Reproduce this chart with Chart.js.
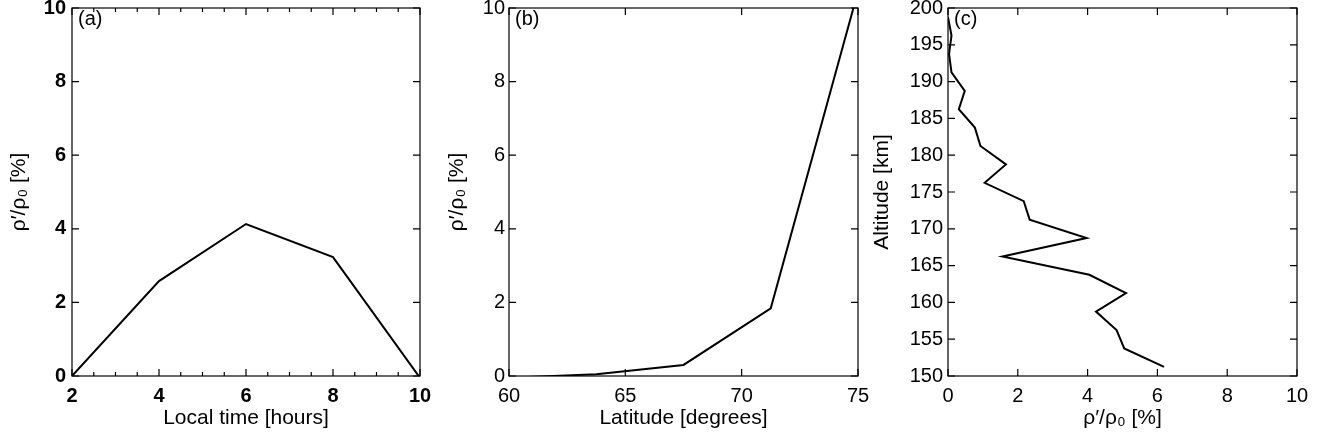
<!DOCTYPE html>
<html>
<head>
<meta charset="utf-8">
<script src="https://cdn.jsdelivr.net/npm/chart.js@4.4.1/dist/chart.umd.min.js"></script>
<style>
  html, body { margin: 0; padding: 0; background: #fff; }
  body { width: 1325px; height: 442px; position: relative; overflow: hidden; }
  .panel { position: absolute; top: 0; height: 442px; }
  #chartA { left: 0; width: 440px; }
  #chartB { left: 440px; width: 440px; }
  #chartC { left: 870px; width: 455px; }
</style>
</head>
<body>
<div class="panel" id="chartA"><canvas id="cA"></canvas></div>
<div class="panel" id="chartB"><canvas id="cB"></canvas></div>
<div class="panel" id="chartC"><canvas id="cC"></canvas></div>
<script>
// panel (a): perturbation vs local time
const localTime = [2, 4, 6, 8, 10];
const perturbA = [0, 2.58, 4.13, 3.23, -0.05];

// panel (b): perturbation vs latitude
const latitude = [60, 63.75, 67.5, 71.25, 75];
const perturbB = [-0.05, 0.05, 0.3, 1.84, 10.45];

// panel (c): altitude profile
const altitude = [198.75, 196.25, 193.75, 191.25, 188.75, 186.25, 183.75, 181.25, 178.75, 176.25,
                  173.75, 171.25, 168.75, 166.25, 163.75, 161.25, 158.75, 156.25, 153.75, 151.25];
const perturbC = [0.0, 0.1, 0.03, 0.1, 0.48, 0.31, 0.77, 0.93, 1.66, 1.05,
                  2.17, 2.34, 3.97, 1.56, 4.05, 5.1, 4.24, 4.83, 5.05, 6.19];

const FONT = '"Liberation Sans", Arial, Helvetica, sans-serif';
const RHO = 'ρ\u2032/ρ\u2080 [%]';

// frame with inward ticks on all four sides + panel letter
const frame = {
  id: 'frame',
  afterDraw(chart, args, opts) {
    const { ctx, chartArea: a, scales: { x, y } } = chart;
    ctx.save();
    ctx.strokeStyle = '#000';
    ctx.lineWidth = 1.2;
    ctx.strokeRect(a.left, a.top, a.right - a.left, a.bottom - a.top);
    ctx.beginPath();
    x.ticks.forEach(t => {
      const px = x.getPixelForValue(t.value);
      ctx.moveTo(px, a.bottom); ctx.lineTo(px, a.bottom - 7);
      ctx.moveTo(px, a.top); ctx.lineTo(px, a.top + 7);
    });
    y.ticks.forEach(t => {
      const py = y.getPixelForValue(t.value);
      ctx.moveTo(a.left, py); ctx.lineTo(a.left + 7, py);
      ctx.moveTo(a.right, py); ctx.lineTo(a.right - 7, py);
    });
    if (opts.minorX) {
      for (let v = x.min; v <= x.max + 1e-9; v += opts.minorX) {
        const px = x.getPixelForValue(v);
        ctx.moveTo(px, a.bottom); ctx.lineTo(px, a.bottom - 4);
        ctx.moveTo(px, a.top); ctx.lineTo(px, a.top + 4);
      }
    }
    ctx.stroke();
    ctx.fillStyle = '#000';
    ctx.font = '20px ' + FONT;
    ctx.textBaseline = 'top';
    ctx.fillText(opts.label, a.left + 6, a.top + 1);
    ctx.restore();
  }
};

function makeChart(id, xs, ys, o) {
  const pts = xs.map((v, i) => ({ x: v, y: ys[i] }));
  const tickFont = { family: FONT, size: 20, weight: o.bold ? 'bold' : 'normal' };
  const titleFont = { family: FONT, size: 21 };
  return new Chart(document.getElementById(id), {
    type: 'line',
    data: { datasets: [{ data: pts, borderColor: '#000', borderWidth: 2, pointRadius: 0, tension: 0, fill: false }] },
    options: {
      responsive: true,
      maintainAspectRatio: false,
      animation: false,
      layout: { padding: { top: 8, right: o.right, bottom: 0, left: 0 } },
      plugins: { legend: { display: false }, tooltip: { enabled: false }, frame: { label: o.label, minorX: o.minorX } },
      scales: {
        x: {
          type: 'linear', min: o.xMin, max: o.xMax,
          grid: { display: false, drawTicks: false },
          border: { display: false },
          ticks: { stepSize: o.xStep, padding: 8, color: '#000', font: tickFont, maxRotation: 0, autoSkip: false },
          title: { display: true, text: o.xTitle, color: '#000', font: titleFont, padding: { top: 0, bottom: 11 } },
          afterFit(s) { s.height = 66; s.paddingLeft = 0; s.paddingRight = 0; s.paddingTop = 0; s.paddingBottom = 0; }
        },
        y: {
          type: 'linear', min: o.yMin, max: o.yMax,
          grid: { display: false, drawTicks: false },
          border: { display: false },
          ticks: { stepSize: o.yStep, padding: o.yPad, color: '#000', font: tickFont, autoSkip: false },
          title: { display: true, text: o.yTitle, color: '#000', font: titleFont, padding: { top: o.yTitlePad, bottom: 0 } },
          afterFit(s) { s.width = o.yWidth; s.paddingLeft = 0; s.paddingRight = 0; s.paddingTop = 0; s.paddingBottom = 0; }
        }
      }
    },
    plugins: [frame]
  });
}

makeChart('cA', localTime, perturbA, {
  label: '(a)', bold: true, minorX: 0.5,
  xMin: 2, xMax: 10, xStep: 2, yMin: 0, yMax: 10, yStep: 2,
  xTitle: 'Local time [hours]', yTitle: RHO,
  yWidth: 72, right: 20, yPad: 6, yTitlePad: 7
});

makeChart('cB', latitude, perturbB, {
  label: '(b)', bold: false,
  xMin: 60, xMax: 75, xStep: 5, yMin: 0, yMax: 10, yStep: 2,
  xTitle: 'Latitude [degrees]', yTitle: RHO,
  yWidth: 69, right: 22, yPad: 4, yTitlePad: 5
});

makeChart('cC', perturbC, altitude, {
  label: '(c)', bold: false,
  xMin: 0, xMax: 10, xStep: 2, yMin: 150, yMax: 200, yStep: 5,
  xTitle: RHO, yTitle: 'Altitude [km]',
  yWidth: 78, right: 28, yPad: 5, yTitlePad: 0
});
</script>
</body>
</html>
